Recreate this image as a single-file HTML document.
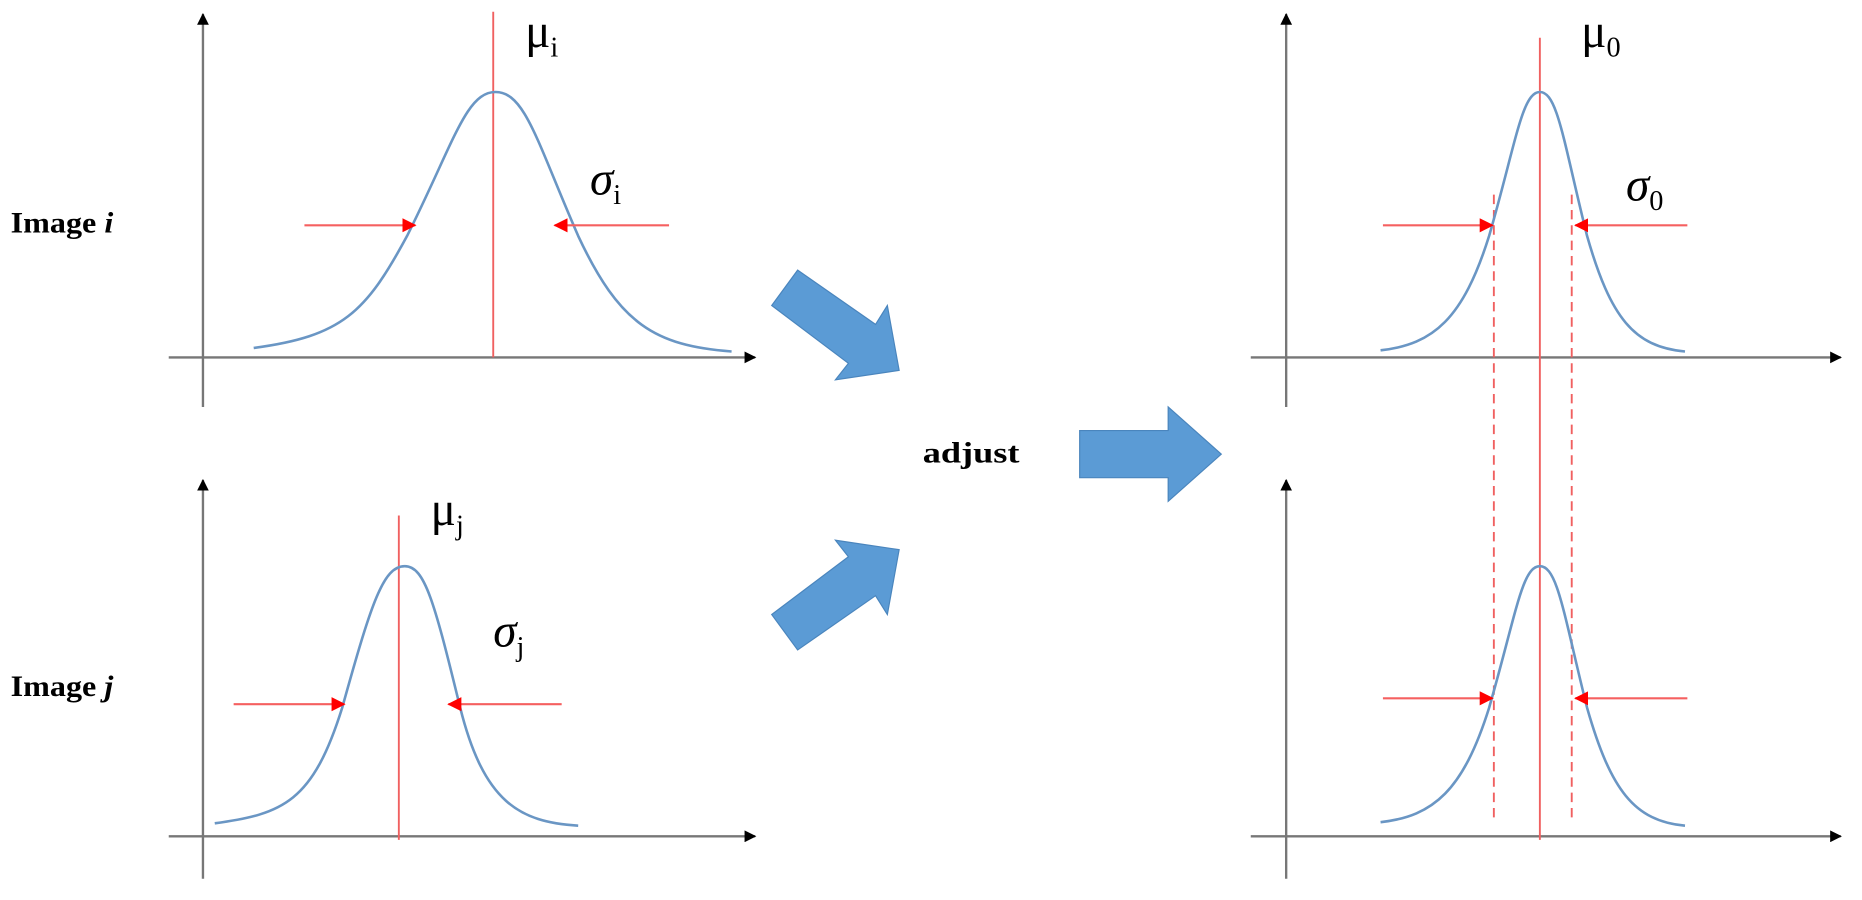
<!DOCTYPE html>
<html><head><meta charset="utf-8"><style>html,body{margin:0;padding:0;background:#fff}svg{display:block}</style></head>
<body>
<svg width="1862" height="900" viewBox="0 0 1578 763" preserveAspectRatio="none" xmlns="http://www.w3.org/2000/svg">
<defs>
<marker id="ab" markerWidth="10" markerHeight="10" refX="9" refY="5" orient="auto" markerUnits="userSpaceOnUse"><path d="M0,0 L10,5 L0,10z" fill="#000"/></marker>
<marker id="ar" markerWidth="12" markerHeight="12" refX="11" refY="6" orient="auto" markerUnits="userSpaceOnUse"><path d="M0,0 L12,6 L0,12z" fill="#f00"/></marker>
</defs>
<g stroke="#777" stroke-width="2" fill="none">
<line x1="172" y1="345" x2="172" y2="12" marker-end="url(#ab)"/>
<line x1="143" y1="303" x2="640" y2="303" marker-end="url(#ab)"/>
<line x1="172" y1="745" x2="172" y2="407" marker-end="url(#ab)"/>
<line x1="143" y1="709" x2="640" y2="709" marker-end="url(#ab)"/>
<line x1="1090" y1="345" x2="1090" y2="12" marker-end="url(#ab)"/>
<line x1="1060" y1="303" x2="1560" y2="303" marker-end="url(#ab)"/>
<line x1="1090" y1="745" x2="1090" y2="407" marker-end="url(#ab)"/>
<line x1="1060" y1="709" x2="1560" y2="709" marker-end="url(#ab)"/>
</g>
<g stroke="#f06060" stroke-width="1.6" fill="none">
<line x1="418" y1="10" x2="418" y2="303"/>
<line x1="338" y1="437" x2="338" y2="712"/>
<line x1="1305" y1="32" x2="1305" y2="712"/>
<line x1="1266" y1="165" x2="1266" y2="695" stroke-dasharray="8,5"/>
<line x1="1332" y1="165" x2="1332" y2="695" stroke-dasharray="8,5"/>
</g>
<g stroke="#6a96c4" stroke-width="2.2" fill="none">
<path d="M215,295 C290,285 310,265 345,200 C385,120 395,78 420,78 C445,78 455,120 490,200 C525,275 555,293 620,298"/>
<path d="M182,698 C240,690 265,680 290,600 C315,510 325,480 343,480 C360,480 368,510 390,600 C410,680 440,697 490,700"/>
<path d="M1170,297 C1215,292 1240,270 1262,200 C1285,120 1290,78 1305,78 C1320,78 1325,120 1345,200 C1365,270 1385,294 1428,298"/>
<path d="M1170,697 C1215,692 1240,670 1262,600 C1285,520 1290,480 1305,480 C1320,480 1325,520 1345,600 C1365,670 1385,696 1428,700"/>
</g>
<g stroke="#f56060" stroke-width="1.8">
<line x1="258" y1="191" x2="352" y2="191" marker-end="url(#ar)"/>
<line x1="567" y1="191" x2="470" y2="191" marker-end="url(#ar)"/>
<line x1="198" y1="597" x2="292" y2="597" marker-end="url(#ar)"/>
<line x1="476" y1="597" x2="380" y2="597" marker-end="url(#ar)"/>
<line x1="1172" y1="191" x2="1265" y2="191" marker-end="url(#ar)"/>
<line x1="1430" y1="191" x2="1335" y2="191" marker-end="url(#ar)"/>
<line x1="1172" y1="592" x2="1265" y2="592" marker-end="url(#ar)"/>
<line x1="1430" y1="592" x2="1335" y2="592" marker-end="url(#ar)"/>
</g>
<g fill="#5b9bd5" stroke="#4a85bd" stroke-width="1">
<polygon points="676,229 742,275 752,259 762,314 708,322 719,308 654,259"/>
<polygon points="676,551 742,505 752,521 762,466 708,458 719,472 654,521"/>
<polygon points="915,365 990,365 990,345 1035,385 990,425 990,405 915,405"/>
</g>
<g font-family="Liberation Serif, serif" fill="#000">
<text x="9" y="197" font-size="25" font-weight="bold" textLength="87" lengthAdjust="spacingAndGlyphs">Image <tspan font-style="italic">i</tspan></text>
<text x="9" y="590" font-size="25" font-weight="bold" textLength="87" lengthAdjust="spacingAndGlyphs">Image <tspan font-style="italic">j</tspan></text>
<text x="782" y="392" font-size="25" font-weight="bold" textLength="82" lengthAdjust="spacingAndGlyphs">adjust</text>
<text x="445" y="40" font-size="40">μ<tspan font-size="24" dy="8">i</tspan></text>
<text x="365" y="445" font-size="40">μ<tspan font-size="24" dy="8">j</tspan></text>
<text x="1340" y="40" font-size="40">μ<tspan font-size="24" dy="8">0</tspan></text>
<text x="500" y="165" font-size="40" font-style="italic">σ<tspan font-size="24" font-style="normal" dy="8">i</tspan></text>
<text x="418" y="548" font-size="40" font-style="italic">σ<tspan font-size="24" font-style="normal" dy="8">j</tspan></text>
<text x="1378" y="170" font-size="40" font-style="italic">σ<tspan font-size="24" font-style="normal" dy="8">0</tspan></text>
</g>
</svg>
</body></html>
